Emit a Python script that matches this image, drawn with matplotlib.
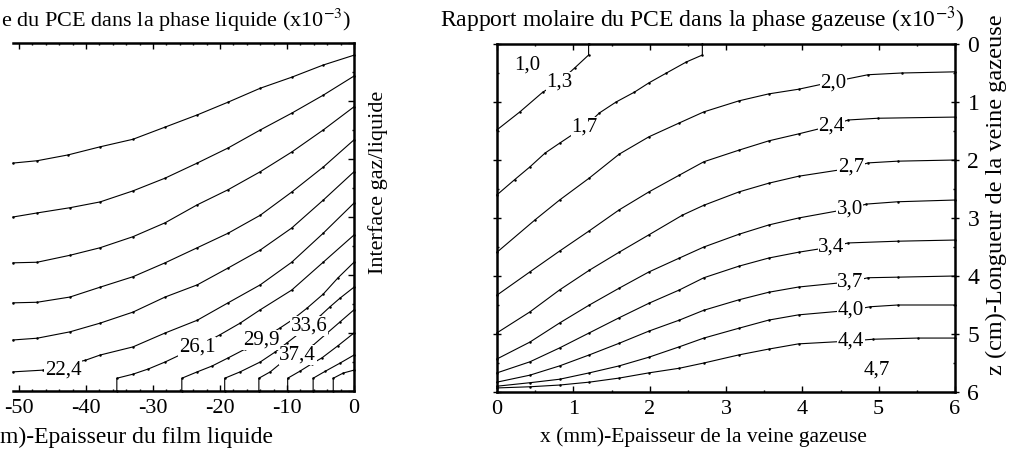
import matplotlib
matplotlib.use('Agg')
import matplotlib.pyplot as plt
from matplotlib.ticker import MultipleLocator

plt.rcParams['font.family'] = ['Liberation Serif', 'DejaVu Serif']
plt.rcParams['axes.unicode_minus'] = False
plt.rcParams['mathtext.fontset'] = 'stix'

# ---------------- Liquid film (left panel): x in um, z in cm ----------------
liq_A_x = [-50.9, -47.3, -42.7, -37.9, -33.0, -28.2, -23.4, -18.8, -14.0, -9.3, -4.6, 0]
liq_A_z = [2.07, 2.03, 1.93, 1.79, 1.66, 1.45, 1.24, 1.02, 0.78, 0.59, 0.38, 0.21]
liq_B_x = [-50.9, -47.3, -42.4, -37.9, -33.0, -28.2, -23.4, -18.8, -14.0, -9.3, -4.6, 0]
liq_B_z = [3.00, 2.93, 2.84, 2.74, 2.55, 2.33, 2.07, 1.81, 1.50, 1.21, 0.90, 0.57]
liq_C_x = [-50.9, -47.3, -42.4, -37.9, -33.0, -28.2, -23.4, -18.8, -14.0, -9.3, -4.6, 0]
liq_C_z = [3.79, 3.78, 3.66, 3.53, 3.34, 3.10, 2.79, 2.53, 2.22, 1.88, 1.50, 1.10]
liq_D_x = [-50.9, -47.3, -42.4, -37.9, -33.0, -28.2, -23.4, -18.8, -14.0, -9.3, -4.6, 0]
liq_D_z = [4.48, 4.47, 4.38, 4.21, 4.03, 3.79, 3.53, 3.28, 2.97, 2.57, 2.14, 1.67]
liq_E_x = [-50.9, -47.3, -42.4, -37.9, -33.0, -28.2, -23.4, -18.8, -14.0, -9.3, -4.6, 0]
liq_E_z = [5.12, 5.09, 4.98, 4.83, 4.64, 4.38, 4.17, 3.88, 3.57, 3.19, 2.71, 2.22]
liq_F_x = [-50.9, -46.4, -40.1, -37.9, -33.0, -28.2, -23.4, -18.8, -14.0, -9.3, -4.6, 0]
liq_F_z = [5.67, 5.64, 5.47, 5.38, 5.24, 5.00, 4.78, 4.48, 4.17, 3.78, 3.28, 2.76]
liq_G_x = [-35.4, -35.4, -33.0, -30.7, -28.2, -26.0, -23.4, -20.0, -17.0, -14.0, -9.3, -4.6, 0]
liq_G_z = [6.0, 5.78, 5.71, 5.62, 5.50, 5.38, 5.24, 5.03, 4.83, 4.60, 4.26, 3.78, 3.31]
liq_H_x = [-25.7, -25.7, -23.4, -21.2, -18.8, -16.3, -13.9, -11.0, -9.3, -7.0, -4.6, -2.4, 0]
liq_H_z = [6.0, 5.78, 5.67, 5.57, 5.43, 5.28, 5.12, 4.91, 4.78, 4.57, 4.33, 4.05, 3.78]
liq_I_x = [-19.3, -19.3, -17.0, -14.0, -11.8, -10.0, -8.1, -6.7, -5.1, -3.6, -2.1, 0]
liq_I_z = [6.0, 5.78, 5.67, 5.50, 5.33, 5.17, 5.00, 4.88, 4.71, 4.55, 4.40, 4.21]
liq_J_x = [-14.2, -14.2, -12.5, -10.7, -8.4, -6.1, -4.0, -2.1, 0]
liq_J_z = [6.0, 5.78, 5.67, 5.50, 5.38, 5.21, 5.00, 4.81, 4.60]
liq_K_x = [-9.9, -9.9, -8.1, -6.3, -4.8, -2.4, 0]
liq_K_z = [6.0, 5.78, 5.66, 5.53, 5.43, 5.22, 5.00]
liq_L_x = [-6.1, -6.1, -4.3, -2.1, 0]
liq_L_z = [6.0, 5.78, 5.66, 5.52, 5.38]
liq_M_x = [-3.1, -3.1, -1.6, 0]
liq_M_z = [6.0, 5.78, 5.69, 5.64]

liq_labels = ['22,4', '26,1', '29,9', '33,6', '37,4']
liq_label_x = [-43.4, -23.4, -13.9, -6.7, -8.4]
liq_label_z = [5.64, 5.24, 5.12, 4.88, 5.38]

# ---------------- Gas channel (right panel): x in mm, z in cm ----------------
gas_x_std = [0, 0.43, 0.82, 1.21, 1.60, 1.99, 2.39, 2.71, 3.17, 3.56, 3.95]
gas_r1_x = [1.20, 1.20, 1.02, 0.81, 0.60, 0.30, 0.0]
gas_r1_z = [0.0, 0.19, 0.41, 0.66, 0.83, 1.17, 1.48]
gas_r2_x = [2.69, 2.69, 2.48, 2.22, 1.99, 1.80, 1.56, 1.34, 1.15, 0.98, 0.82, 0.63, 0.43, 0.23, 0.0]
gas_r2_z = [0.0, 0.19, 0.31, 0.50, 0.67, 0.83, 1.00, 1.19, 1.43, 1.57, 1.71, 1.88, 2.12, 2.34, 2.60]
gas_r3_x = [0, 0.50, 0.82, 1.21, 1.60, 1.99, 2.39, 2.71, 3.17, 3.56, 3.95, 4.41, 4.86, 5.30, 6.0]
gas_r3_z = [3.59, 3.03, 2.69, 2.31, 1.90, 1.60, 1.36, 1.17, 0.98, 0.86, 0.78, 0.65, 0.53, 0.50, 0.48]
gas_r4_x = gas_x_std + [4.38, 4.60, 4.99, 6.0]
gas_r4_z = [4.33, 3.93, 3.57, 3.22, 2.86, 2.55, 2.26, 2.03, 1.83, 1.67, 1.55, 1.41, 1.31, 1.28, 1.26]
gas_r5_x = [0, 0.43, 0.82, 1.21, 1.60, 1.99, 2.43, 2.71, 3.17, 3.56, 3.95, 4.64, 4.86, 5.25, 6.0]
gas_r5_z = [4.98, 4.62, 4.24, 3.90, 3.59, 3.29, 2.95, 2.78, 2.55, 2.40, 2.28, 2.14, 2.05, 2.02, 2.00]
gas_r6_x = gas_x_std + [4.62, 4.84, 5.25, 6.0]
gas_r6_z = [5.43, 5.14, 4.81, 4.50, 4.21, 3.93, 3.69, 3.50, 3.28, 3.12, 3.00, 2.84, 2.76, 2.72, 2.69]
gas_r7_x = gas_x_std + [4.38, 4.60, 5.25, 6.0]
gas_r7_z = [5.67, 5.48, 5.24, 4.98, 4.72, 4.47, 4.24, 4.03, 3.83, 3.69, 3.59, 3.50, 3.43, 3.40, 3.38]
gas_r8_x = gas_x_std + [4.63, 4.86, 5.25, 6.0]
gas_r8_z = [5.83, 5.71, 5.55, 5.36, 5.16, 4.95, 4.76, 4.59, 4.41, 4.28, 4.19, 4.10, 4.03, 4.02, 4.00]
gas_r9_x = gas_x_std + [4.64, 4.89, 5.25, 6.0]
gas_r9_z = [5.90, 5.84, 5.78, 5.67, 5.55, 5.40, 5.22, 5.07, 4.90, 4.76, 4.67, 4.59, 4.53, 4.50, 4.50]
gas_r10_x = gas_x_std + [4.64, 4.93, 5.51, 6.0]
gas_r10_z = [5.93, 5.91, 5.88, 5.83, 5.76, 5.67, 5.59, 5.50, 5.36, 5.26, 5.17, 5.12, 5.09, 5.07, 5.07]

gas_labels = ['1,0', '1,3', '1,7', '2,0', '2,4', '2,7', '3,0', '3,4', '3,7', '4,0', '4,4', '4,7']
gas_label_x = [0.40, 0.82, 1.15, 4.41, 4.38, 4.64, 4.62, 4.38, 4.63, 4.64, 4.64, 4.97]
gas_label_z = [0.36, 0.66, 1.43, 0.68, 1.41, 2.12, 2.84, 3.50, 4.10, 4.58, 5.12, 5.62]

liq_x_ticks = [-50, -40, -30, -20, -10, 0]
gas_x_ticks = [0, 1, 2, 3, 4, 5, 6]
z_ticks = [0, 1, 2, 3, 4, 5, 6]

# ---------------- figure ----------------
W, H = 1009, 450
fig = plt.figure(figsize=(W / 100, H / 100), dpi=100)

ax1 = fig.add_axes([13 / W, 1 - 391 / H, (354 - 13) / W, (391 - 43) / H])
ax2 = fig.add_axes([497 / W, 1 - 392 / H, (955 - 497) / W, (392 - 44) / H])

line_kw = dict(color='black', lw=0.8, marker='.', ms=1.6, solid_joinstyle='round')
label_kw = dict(ha='center', va='center', fontsize=15,
                bbox=dict(fc='white', ec='none', pad=0.4), zorder=5)

liq_series = [(liq_A_x, liq_A_z), (liq_B_x, liq_B_z), (liq_C_x, liq_C_z), (liq_D_x, liq_D_z),
              (liq_E_x, liq_E_z), (liq_F_x, liq_F_z), (liq_G_x, liq_G_z), (liq_H_x, liq_H_z),
              (liq_I_x, liq_I_z), (liq_J_x, liq_J_z), (liq_K_x, liq_K_z), (liq_L_x, liq_L_z),
              (liq_M_x, liq_M_z)]
for xs, zs in liq_series:
    ax1.plot(xs, zs, clip_on=False, **line_kw)
for t, x, z in zip(liq_labels, liq_label_x, liq_label_z):
    ax1.text(x, z, t, **label_kw)

gas_series = [(gas_r1_x, gas_r1_z), (gas_r2_x, gas_r2_z), (gas_r3_x, gas_r3_z),
              (gas_r4_x, gas_r4_z), (gas_r5_x, gas_r5_z), (gas_r6_x, gas_r6_z),
              (gas_r7_x, gas_r7_z), (gas_r8_x, gas_r8_z), (gas_r9_x, gas_r9_z),
              (gas_r10_x, gas_r10_z)]
for xs, zs in gas_series:
    ax2.plot(xs, zs, clip_on=False, **line_kw)
for t, x, z in zip(gas_labels, gas_label_x, gas_label_z):
    ax2.text(x, z, t, **label_kw)

# ---- axes styling ----
for ax in (ax1, ax2):
    ax.set_ylim(6, 0)
    for s in ax.spines.values():
        s.set_linewidth(1.8)
    ax.tick_params(which='both', direction='in', top=True, bottom=True, labelsize=16,
                   width=1.0, colors='black')
    ax.tick_params(which='major', length=4)
    ax.tick_params(which='minor', length=1.5)

ax1.set_xlim(-50.9, 0)
ax1.spines['left'].set_visible(False)
ax1.set_xticks(liq_x_ticks)
ax1.set_xticklabels([str(v) for v in liq_x_ticks])
ax1.xaxis.set_minor_locator(MultipleLocator(2))
ax1.set_yticks(z_ticks)
ax1.yaxis.set_minor_locator(MultipleLocator(0.5))
ax1.tick_params(axis='y', which='both', left=False, right=True, labelleft=False, labelright=False)
ax1.tick_params(axis='x', pad=6)

ax2.set_xlim(0, 6)
ax2.set_xticks(gas_x_ticks)
ax2.set_xticklabels([str(v) for v in gas_x_ticks])
ax2.xaxis.set_minor_locator(MultipleLocator(0.5))
ax2.set_yticks(z_ticks)
ax2.set_yticklabels([str(v) for v in z_ticks])
ax2.yaxis.set_minor_locator(MultipleLocator(0.5))
ax2.tick_params(axis='y', which='both', left=True, right=True, labelleft=False, labelright=True)
ax2.tick_params(axis='y', which='major', direction='inout', length=6, pad=6, labelsize=17)
ax2.tick_params(axis='x', pad=6)

# ---- texts (as visible in the cropped reference) ----
fig.text(1 / W, 1 - 20 / H, 'e du PCE dans la phase liquide (x10$^{-3}$)',
         ha='left', va='center', fontsize=16)
fig.text(440 / W, 1 - 20 / H, 'Rapport molaire du PCE dans la phase gazeuse (x10$^{-3}$)',
         ha='left', va='center', fontsize=17)
fig.text(273 / W, 1 - 437 / H, 'm)-Epaisseur du film liquide',
         ha='right', va='center', fontsize=17)
fig.text(703 / W, 1 - 437 / H, 'x (mm)-Epaisseur de la veine gazeuse',
         ha='center', va='center', fontsize=15.5)
fig.text(378 / W, 1 - 182 / H, 'Interface gaz/liquide', rotation=90,
         ha='center', va='center', fontsize=16)
fig.text(996 / W, 1 - 195 / H, 'z (cm)-Longueur de la veine gazeuse', rotation=90,
         ha='center', va='center', fontsize=17.5)

fig.savefig('out.png', dpi=100)
